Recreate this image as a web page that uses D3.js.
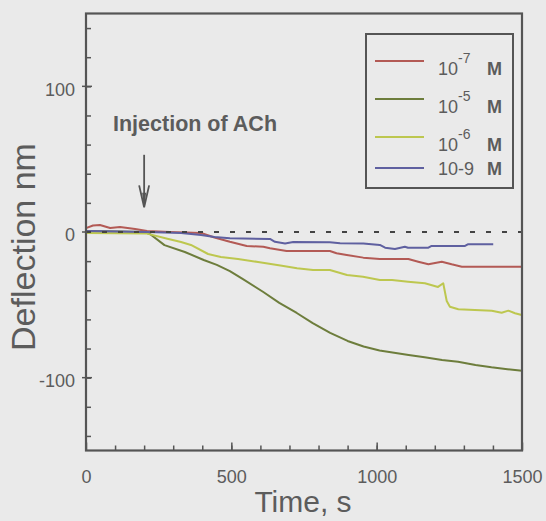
<!DOCTYPE html>
<html>
<head>
<meta charset="utf-8">
<script src="https://cdn.jsdelivr.net/npm/d3@7/dist/d3.min.js"></script>
<style>
  body { margin: 0; background: #eaeaea; }
  svg { display: block; font-family: "Liberation Sans", Arial, sans-serif; }
</style>
</head>
<body>
<div class="graph"></div>
<script>
var width = 546,
    height = 521;

// time (s) / deflection (nm)
var time7 = [0, 24, 48, 83, 117, 169, 210, 289, 396, 442, 495, 553, 610, 633, 690, 782, 839, 862, 897, 954, 1011, 1109, 1143, 1178, 1224, 1258, 1293, 1396, 1499];
var defl7 = [2.7, 4.5, 4.8, 2.7, 3.4, 2.1, 0.7, 0, -0.7, -3.8, -6.7, -9.6, -10.1, -11.2, -13, -13, -13, -14.6, -15.8, -17.6, -18.5, -18.5, -20.4, -22.2, -20.4, -22.2, -23.8, -23.8, -23.8];

var time5 = [0, 120, 200, 220, 270, 340, 405, 450, 495, 540, 610, 665, 725, 780, 840, 900, 955, 1010, 1110, 1165, 1225, 1280, 1340, 1395, 1450, 1500];
var defl5 = [0.7, 0.3, 0, -1.4, -9, -13.7, -19.2, -22.6, -26.8, -32.3, -41.2, -48.7, -55.6, -62.5, -69.3, -74.8, -78.6, -81.3, -84.4, -86, -87.9, -89, -91.3, -92.9, -94.2, -95.2];

var time6 = [0, 210, 280, 327, 361, 420, 464, 523, 592, 674, 726, 781, 839, 898, 953, 1011, 1053, 1108, 1166, 1211, 1229, 1241, 1252, 1281, 1338, 1396, 1430, 1453, 1476, 1499];
var defl6 = [-0.7, -1.1, -4.6, -6.9, -8.9, -15.1, -17.2, -18.5, -20.6, -23.1, -24.9, -26.1, -26.1, -29.5, -30.7, -32.9, -32.9, -34.1, -35.2, -37.7, -35.2, -47.4, -51.3, -53, -53.5, -54, -55.4, -54, -55.8, -57];

var time9 = [0, 210, 327, 396, 442, 495, 633, 650, 685, 713, 839, 874, 954, 1011, 1029, 1063, 1097, 1108, 1178, 1189, 1304, 1315, 1401];
var defl9 = [0.7, 0, -0.7, -2, -3.4, -4.3, -4.8, -6.7, -7.9, -6.9, -7.1, -7.8, -7.9, -8.9, -10.8, -11.7, -10.1, -10.8, -10.8, -9.6, -9.6, -8.4, -8.4];

var seriesNames = ["10^-7 M", "10^-5 M", "10^-6 M", "10-9 M"];
var seriesColors = ["#b35a55", "#6d7d3c", "#bdc74f", "#5f60a0"];
var seriesTimes = [time7, time5, time6, time9];
var seriesDefl = [defl7, defl5, defl6, defl9];

var xTickLabels = [0, 500, 1000, 1500];
var yTickLabels = [100, 0, -100];
var injectionTime = 200;

var margin = {left: 86, right: 24, top: 13.5, bottom: 70.5};

var x = d3.scaleLinear().domain([0, 1500]).range([margin.left, width - margin.right]);
var y = d3.scaleLinear().domain([-150, 150]).range([height - margin.bottom, margin.top]);

var svg = d3.select('.graph').append("svg")
    .attr("width", width)
    .attr("height", height);

svg.append("rect")
    .attr("width", width)
    .attr("height", height)
    .attr("fill", "#eaeaea");

var ink = "#555",
    textInk = "#5c5c5c";

///////////////////////////// AXES /////////////////////////////

// minor ticks inside the frame
var xMinor = d3.axisBottom(x).tickValues(d3.range(100, 1500, 100)).tickSize(-5).tickFormat("");
var xMajor = d3.axisBottom(x).tickValues(xTickLabels).tickSize(-8).tickPadding(20)
    .tickFormat(d3.format("d"));

svg.append("g")
    .attr("transform", "translate(0," + y(-150) + ")")
    .call(xMinor)
    .call(function(g) { g.select(".domain").remove(); })
    .selectAll("line").attr("stroke", ink).attr("stroke-width", 1.5);

svg.append("g")
    .attr("transform", "translate(0," + y(-150) + ")")
    .call(xMajor)
    .call(function(g) {
        g.select(".domain").remove();
        g.selectAll("line").attr("stroke", ink).attr("stroke-width", 1.5);
        g.selectAll("text")
            .attr("fill", textInk)
            .style("font-size", "18px");
    });

var yMinor = d3.axisLeft(y).tickValues(d3.range(-140, 150, 20)).tickSize(-5).tickFormat("");

svg.append("g")
    .attr("transform", "translate(" + x(0) + ",0)")
    .call(yMinor)
    .call(function(g) { g.select(".domain").remove(); })
    .selectAll("line").attr("stroke", ink).attr("stroke-width", 1.5);

var yLab = svg.append("g").selectAll("g")
    .data(yTickLabels)
    .enter().append("g");

yLab.append("line")
    .attr("x1", x(0) - 4)
    .attr("x2", x(0) + 6)
    .attr("y1", function(d) { return y(d); })
    .attr("y2", function(d) { return y(d); })
    .attr("stroke", ink)
    .attr("stroke-width", 1.5);

yLab.append("text")
    .attr("x", x(0) - 11)
    .attr("y", function(d) { return y(d) + 3; })
    .attr("dy", "0.35em")
    .attr("text-anchor", "end")
    .attr("fill", textInk)
    .style("font-size", "18px")
    .text(function(d) { return d; });

///////////////////////////// SERIES /////////////////////////////

var line = d3.line()
    .x(function(d) { return x(d[0]); })
    .y(function(d) { return y(d[1]); });

seriesNames.forEach(function(name, i) {
    var pts = seriesTimes[i].map(function(t, j) { return [t, seriesDefl[i][j]]; });
    svg.append("path")
        .datum(pts)
        .attr("fill", "none")
        .attr("stroke", seriesColors[i])
        .attr("stroke-width", 2)
        .attr("stroke-linejoin", "round")
        .attr("d", line);
});

// zero reference line
svg.append("line")
    .attr("x1", x(0))
    .attr("x2", x(1500))
    .attr("y1", y(0))
    .attr("y2", y(0))
    .attr("stroke", "#444")
    .attr("stroke-width", 2)
    .attr("stroke-dasharray", "5,11");

// frame
svg.append("rect")
    .attr("x", x(0))
    .attr("y", y(150))
    .attr("width", x(1500) - x(0))
    .attr("height", y(-150) - y(150))
    .attr("fill", "none")
    .attr("stroke", ink)
    .attr("stroke-width", 2.2);

///////////////////////////// ANNOTATION /////////////////////////////

svg.append("text")
    .attr("x", 113)
    .attr("y", 131)
    .attr("fill", textInk)
    .style("font-size", "21.5px")
    .style("font-weight", "bold")
    .text("Injection of ACh");

var ax = x(injectionTime);
svg.append("line")
    .attr("x1", ax).attr("x2", ax)
    .attr("y1", y(53)).attr("y2", y(18))
    .attr("stroke", ink)
    .attr("stroke-width", 1.8);

svg.append("path")
    .attr("d", "M" + (ax - 5) + "," + y(32) + "L" + ax + "," + y(17) + "L" + (ax + 5) + "," + y(32))
    .attr("fill", "none")
    .attr("stroke", ink)
    .attr("stroke-width", 1.8);

svg.append("path")
    .attr("d", "M" + (ax - 2) + "," + y(27) + "L" + ax + "," + y(17) + "L" + (ax + 2) + "," + y(27) + "Z")
    .attr("fill", ink);

///////////////////////////// LEGEND /////////////////////////////

var legend = svg.append("g");

legend.append("rect")
    .attr("x", 366)
    .attr("y", 34)
    .attr("width", 147)
    .attr("height", 154)
    .attr("fill", "none")
    .attr("stroke", ink)
    .attr("stroke-width", 2);

var rowY = function(i) { return i < 3 ? 61 + i * 38 : 168; };

seriesNames.forEach(function(name, i) {
    var ly = rowY(i);
    legend.append("line")
        .attr("x1", 375).attr("x2", 424)
        .attr("y1", ly).attr("y2", ly)
        .attr("stroke", seriesColors[i])
        .attr("stroke-width", 2);

    var parts = name.split(" ");
    var num = parts[0];
    var txt = legend.append("text")
        .attr("fill", textInk)
        .style("font-size", "18px");

    if (num.indexOf("^") >= 0) {
        var b = num.split("^");
        txt.attr("x", 438).attr("y", ly + 14);
        txt.append("tspan").text(b[0]);
        txt.append("tspan")
            .attr("dy", -12)
            .style("font-size", "14px")
            .text(b[1]);
        txt.append("tspan")
            .attr("x", 487)
            .attr("dy", 12)
            .style("font-weight", "bold")
            .text(parts[1]);
    } else {
        txt.attr("x", 438).attr("y", ly + 7);
        txt.append("tspan").text(num);
        txt.append("tspan")
            .attr("x", 487)
            .style("font-weight", "bold")
            .text(parts[1]);
    }
});

///////////////////////////// TITLES /////////////////////////////

svg.append("text")
    .attr("transform", "translate(35,247) rotate(-90)")
    .attr("text-anchor", "middle")
    .attr("fill", textInk)
    .style("font-size", "34px")
    .text("Deflection nm");

svg.append("text")
    .attr("x", 303)
    .attr("y", 512)
    .attr("text-anchor", "middle")
    .attr("fill", textInk)
    .style("font-size", "30px")
    .text("Time, s");
</script>
</body>
</html>
